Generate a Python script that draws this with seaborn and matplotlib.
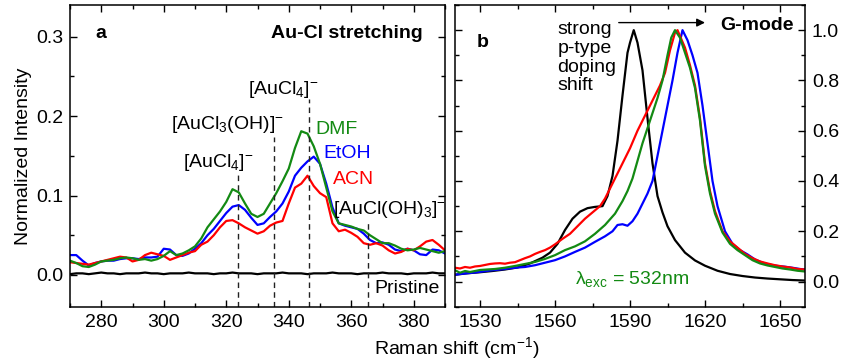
import numpy as np
import pandas as pd
import matplotlib
matplotlib.use("Agg")
import matplotlib.pyplot as plt
import seaborn as sns
from matplotlib.ticker import MultipleLocator, FormatStrFormatter

# ---------------- data: panel a (Au-Cl stretching) ----------------
a_x = [270, 272, 274, 276, 278, 280, 282, 284, 286, 288, 290, 292, 294, 296, 298,
       300, 302, 304, 306, 308, 310, 312, 314, 316, 318, 320, 322, 324, 326, 328,
       330, 332, 334, 336, 338, 340, 342, 344, 346, 348, 350, 352, 354, 356, 358,
       360, 362, 364, 366, 368, 370, 372, 374, 376, 378, 380, 382, 384, 386, 388, 390]
a_dmf = [0.018, 0.015, 0.011, 0.010, 0.013, 0.017, 0.018, 0.019, 0.021, 0.022, 0.021,
         0.019, 0.020, 0.018, 0.020, 0.024, 0.030, 0.025, 0.027, 0.031, 0.036, 0.046,
         0.060, 0.070, 0.080, 0.092, 0.108, 0.104, 0.090, 0.077, 0.073, 0.077, 0.090,
         0.103, 0.118, 0.134, 0.160, 0.181, 0.178, 0.162, 0.140, 0.110, 0.080, 0.065,
         0.063, 0.061, 0.058, 0.056, 0.050, 0.045, 0.040, 0.040, 0.037, 0.033, 0.031,
         0.032, 0.034, 0.032, 0.030, 0.028, 0.030]
a_etoh = [0.025, 0.025, 0.018, 0.012, 0.015, 0.017, 0.018, 0.018, 0.020, 0.021, 0.021,
          0.020, 0.022, 0.022, 0.023, 0.033, 0.032, 0.025, 0.024, 0.027, 0.033, 0.040,
          0.050, 0.058, 0.068, 0.078, 0.086, 0.088, 0.082, 0.072, 0.063, 0.065, 0.073,
          0.080, 0.090, 0.105, 0.125, 0.135, 0.143, 0.149, 0.140, 0.115, 0.085, 0.065,
          0.062, 0.060, 0.058, 0.052, 0.044, 0.040, 0.041, 0.038, 0.032, 0.030, 0.033,
          0.031, 0.026, 0.025, 0.032, 0.031, 0.027]
a_acn = [0.016, 0.015, 0.014, 0.013, 0.015, 0.017, 0.019, 0.021, 0.023, 0.022, 0.017,
         0.019, 0.025, 0.028, 0.026, 0.024, 0.019, 0.022, 0.025, 0.028, 0.030, 0.038,
         0.042, 0.050, 0.060, 0.068, 0.069, 0.065, 0.060, 0.056, 0.052, 0.055, 0.062,
         0.066, 0.068, 0.090, 0.110, 0.115, 0.125, 0.112, 0.103, 0.098, 0.065, 0.055,
         0.057, 0.053, 0.048, 0.040, 0.038, 0.040, 0.037, 0.031, 0.027, 0.029, 0.033,
         0.031, 0.036, 0.042, 0.044, 0.038, 0.031]
a_pristine = [0.001, 0.002, 0.002, 0.001, 0.002, 0.003, 0.002, 0.002, 0.001, 0.002, 0.002,
              0.002, 0.003, 0.002, 0.002, 0.001, 0.002, 0.002, 0.002, 0.003, 0.002, 0.002,
              0.002, 0.001, 0.002, 0.002, 0.003, 0.002, 0.002, 0.002, 0.001, 0.002, 0.002,
              0.002, 0.003, 0.002, 0.002, 0.002, 0.001, 0.002, 0.002, 0.002, 0.003, 0.002,
              0.002, 0.002, 0.001, 0.002, 0.002, 0.002, 0.003, 0.002, 0.002, 0.002, 0.001,
              0.002, 0.002, 0.002, 0.003, 0.002, 0.002]

ref_peaks = [323.7, 335.3, 346.6, 365.3]
ref_tops = [0.128, 0.174, 0.222, 0.068]
ref_labels = [r"[AuCl$_4$]$^{\mathsf{-}}$", r"[AuCl$_3$(OH)]$^{\mathsf{-}}$",
              r"[AuCl$_4$]$^{\mathsf{-}}$", r"[AuCl(OH)$_3$]$^{\mathsf{-}}$"]

# ---------------- data: panel b (G-mode) ----------------
b_x_pristine = [1520, 1525, 1530, 1535, 1540, 1545, 1550, 1555, 1558, 1561, 1564, 1567,
                1570, 1573, 1576, 1579, 1581, 1583, 1585, 1587, 1589, 1590, 1591.5, 1593,
                1595, 1597, 1599, 1601, 1603, 1605, 1608, 1612, 1616, 1620, 1625, 1630,
                1635, 1640, 1645, 1650, 1655, 1660]
b_pristine = [0.027, 0.033, 0.037, 0.042, 0.048, 0.056, 0.072, 0.095, 0.115, 0.150, 0.205,
              0.250, 0.278, 0.292, 0.297, 0.300, 0.340, 0.420, 0.560, 0.740, 0.910, 0.950,
              1.000, 0.950, 0.840, 0.650, 0.470, 0.340, 0.275, 0.220, 0.165, 0.115, 0.084,
              0.063, 0.043, 0.030, 0.022, 0.016, 0.012, 0.009, 0.006, 0.004]

b_x_acn = [1520, 1522, 1524, 1526, 1528, 1530, 1532, 1534, 1536, 1538, 1540, 1542, 1544,
           1546, 1548, 1550, 1552, 1554, 1556, 1558, 1560, 1563, 1566, 1569, 1572, 1575,
           1578, 1580, 1582, 1584, 1587, 1590, 1593, 1596, 1599, 1602, 1604, 1606, 1608,
           1609, 1612, 1614, 1616, 1618, 1620, 1622, 1624, 1627, 1630, 1633, 1636, 1639,
           1642, 1645, 1648, 1651, 1654, 1657, 1660]
b_acn = [0.055, 0.052, 0.058, 0.055, 0.060, 0.062, 0.066, 0.070, 0.072, 0.073, 0.071,
         0.075, 0.077, 0.085, 0.093, 0.100, 0.110, 0.118, 0.125, 0.135, 0.148, 0.170,
         0.190, 0.220, 0.250, 0.275, 0.300, 0.330, 0.370, 0.410, 0.470, 0.530, 0.600,
         0.660, 0.720, 0.780, 0.830, 0.920, 0.990, 1.000, 0.930, 0.860, 0.780, 0.650,
         0.470, 0.360, 0.280, 0.200, 0.160, 0.135, 0.110, 0.093, 0.080, 0.072, 0.065,
         0.060, 0.056, 0.050, 0.048]

b_x_dmf = [1520, 1522, 1524, 1526, 1528, 1530, 1533, 1536, 1540, 1544, 1548, 1552, 1556,
           1560, 1564, 1568, 1572, 1576, 1580, 1584, 1587, 1589, 1591, 1593, 1595, 1597,
           1599, 1601, 1603, 1605, 1606.5, 1608, 1610, 1612, 1614, 1616, 1618, 1620, 1622,
           1624, 1627, 1630, 1633, 1636, 1639, 1642, 1645, 1648, 1651, 1654, 1657, 1660]
b_dmf = [0.045, 0.035, 0.042, 0.038, 0.042, 0.046, 0.048, 0.050, 0.055, 0.062, 0.070,
         0.078, 0.090, 0.105, 0.125, 0.140, 0.160, 0.190, 0.225, 0.270, 0.320, 0.360,
         0.410, 0.480, 0.550, 0.610, 0.670, 0.730, 0.800, 0.900, 0.970, 1.000, 0.970,
         0.910, 0.850, 0.770, 0.640, 0.460, 0.350, 0.270, 0.195, 0.150, 0.125, 0.105,
         0.085, 0.072, 0.064, 0.058, 0.052, 0.048, 0.043, 0.040]

b_x_etoh = [1520, 1522, 1525, 1528, 1531, 1534, 1537, 1540, 1544, 1548, 1552, 1556, 1560,
            1564, 1568, 1572, 1576, 1580, 1583, 1585, 1587, 1589, 1591, 1593, 1595, 1597,
            1599, 1601, 1603, 1605, 1607, 1609, 1611, 1613, 1615, 1617, 1619, 1621, 1623,
            1625, 1628, 1631, 1634, 1637, 1640, 1643, 1646, 1649, 1652, 1655, 1658, 1660]
b_etoh = [0.027, 0.030, 0.033, 0.036, 0.040, 0.044, 0.047, 0.050, 0.055, 0.058, 0.065,
          0.075, 0.085, 0.100, 0.118, 0.135, 0.158, 0.180, 0.200, 0.225, 0.228, 0.222,
          0.240, 0.270, 0.310, 0.350, 0.400, 0.500, 0.600, 0.700, 0.800, 0.910, 1.000,
          0.960, 0.900, 0.830, 0.700, 0.550, 0.400, 0.300, 0.200, 0.150, 0.125, 0.108,
          0.088, 0.075, 0.067, 0.062, 0.059, 0.055, 0.050, 0.048]

colors = {"Pristine": "#000000", "EtOH": "#0000ff", "ACN": "#ff0000", "DMF": "#138a13"}

# ---------------- build long tables ----------------
def long_df(pairs):
    frames = []
    for name, xs, ys in pairs:
        frames.append(pd.DataFrame({"shift": xs, "intensity": ys, "sample": name}))
    return pd.concat(frames, ignore_index=True)

df_a = long_df([("EtOH", a_x, a_etoh), ("ACN", a_x, a_acn), ("DMF", a_x, a_dmf),
                ("Pristine", a_x, a_pristine)])
df_b = long_df([("Pristine", b_x_pristine, b_pristine), ("EtOH", b_x_etoh, b_etoh),
                ("ACN", b_x_acn, b_acn), ("DMF", b_x_dmf, b_dmf)])

# ---------------- style ----------------
sns.set_style("ticks")
plt.rcParams["font.family"] = ["Liberation Sans", "DejaVu Sans"]
plt.rcParams["mathtext.fontset"] = "custom"
plt.rcParams["mathtext.rm"] = "Liberation Sans"
plt.rcParams["mathtext.it"] = "Liberation Sans:italic"
plt.rcParams["mathtext.bf"] = "Liberation Sans:bold"
plt.rcParams["mathtext.sf"] = "Liberation Sans"
plt.rcParams["axes.linewidth"] = 1.1
plt.rcParams["axes.edgecolor"] = "black"
plt.rcParams["text.color"] = "black"
plt.rcParams["axes.labelcolor"] = "black"
plt.rcParams["xtick.color"] = "black"
plt.rcParams["ytick.color"] = "black"
FS = 14

fig = plt.figure(figsize=(8.47, 3.64), dpi=100)
ax1 = fig.add_axes([70 / 847, 57.3 / 364, 375 / 847, 301.7 / 364])
ax2 = fig.add_axes([455 / 847, 57.3 / 364, 350 / 847, 301.7 / 364])

sns.lineplot(data=df_a, x="shift", y="intensity", hue="sample",
             hue_order=["EtOH", "ACN", "DMF", "Pristine"], palette=colors,
             ax=ax1, legend=False, linewidth=1.6, sort=False)
sns.lineplot(data=df_b, x="shift", y="intensity", hue="sample",
             hue_order=["Pristine", "EtOH", "ACN", "DMF"], palette=colors,
             ax=ax2, legend=False, linewidth=1.6, sort=False)

# ---------------- panel a ----------------
ax1.set_xlim(270, 390)
ax1.set_ylim(-0.04, 0.34)
ax1.xaxis.set_major_locator(MultipleLocator(20))
ax1.xaxis.set_minor_locator(MultipleLocator(10))
ax1.yaxis.set_major_locator(MultipleLocator(0.1))
ax1.yaxis.set_minor_locator(MultipleLocator(0.05))
ax1.yaxis.set_major_formatter(FormatStrFormatter("%.1f"))
ax1.tick_params(which="both", direction="in", top=True, right=True, labelsize=FS,
                width=1.0)
ax1.tick_params(which="major", length=5, pad=5)
ax1.tick_params(which="minor", length=3)
ax1.set_xlabel("")
ax1.set_ylabel("Normalized Intensity", fontsize=FS, labelpad=3)

ax1.vlines(ref_peaks, -0.04, ref_tops, colors="#222222", linestyles=(0, (4, 3)), lw=1.0)
ax1.text(317.5, 0.141, ref_labels[0], fontsize=FS, ha="center", va="center")
ax1.text(320.3, 0.190, ref_labels[1], fontsize=FS, ha="center", va="center")
ax1.text(338.3, 0.233, ref_labels[2], fontsize=FS, ha="center", va="center")
ax1.text(372.3, 0.083, ref_labels[3], fontsize=FS, ha="center", va="center")
ax1.text(348.6, 0.183, "DMF", color=colors["DMF"], fontsize=FS, va="center")
ax1.text(351.0, 0.153, "EtOH", color=colors["EtOH"], fontsize=FS, va="center")
ax1.text(354.2, 0.120, "ACN", color=colors["ACN"], fontsize=FS, va="center")
ax1.text(367.3, -0.017, "Pristine", fontsize=FS, va="center")
ax1.text(278.0, 0.304, "a", fontsize=FS, fontweight="bold", va="center")
ax1.text(383.0, 0.304, "Au-Cl stretching", fontsize=FS, fontweight="bold",
         ha="right", va="center")

# ---------------- panel b ----------------
ax2.set_xlim(1520, 1660)
ax2.set_ylim(-0.1, 1.1)
ax2.xaxis.set_major_locator(MultipleLocator(30))
ax2.xaxis.set_minor_locator(MultipleLocator(15))
ax2.yaxis.set_major_locator(MultipleLocator(0.2))
ax2.yaxis.set_minor_locator(MultipleLocator(0.1))
ax2.yaxis.set_major_formatter(FormatStrFormatter("%.1f"))
ax2.tick_params(which="both", direction="in", top=True, right=True, left=True,
                labelleft=False, labelright=True, labelsize=FS, width=1.0)
ax2.tick_params(which="major", length=5, pad=5)
ax2.tick_params(which="minor", length=3)
ax2.set_xlabel("")
ax2.set_ylabel("")

ax2.text(1528.5, 0.95, "b", fontsize=FS, fontweight="bold", va="center")
ax2.text(1655.5, 1.02, "G-mode", fontsize=FS, fontweight="bold", ha="right", va="center")
ax2.text(1561, 0.89, "strong\np-type\ndoping\nshift", fontsize=FS, ha="left",
         va="center", linespacing=1.12)
ax2.annotate("", xy=(1620, 1.03), xytext=(1585.5, 1.03),
             arrowprops=dict(arrowstyle="-|>", color="k", lw=1.0, mutation_scale=12,
                             shrinkA=0, shrinkB=0))
ax2.text(1591, 0.012, "λ$_{\\mathrm{exc}}$ = 532nm", color=colors["DMF"], fontsize=FS,
         ha="center", va="center")

fig.text(457 / 847, 0.044, "Raman shift (cm$^{-1}$)", fontsize=FS, ha="center",
         va="center")

fig.savefig("out.png", dpi=100)
